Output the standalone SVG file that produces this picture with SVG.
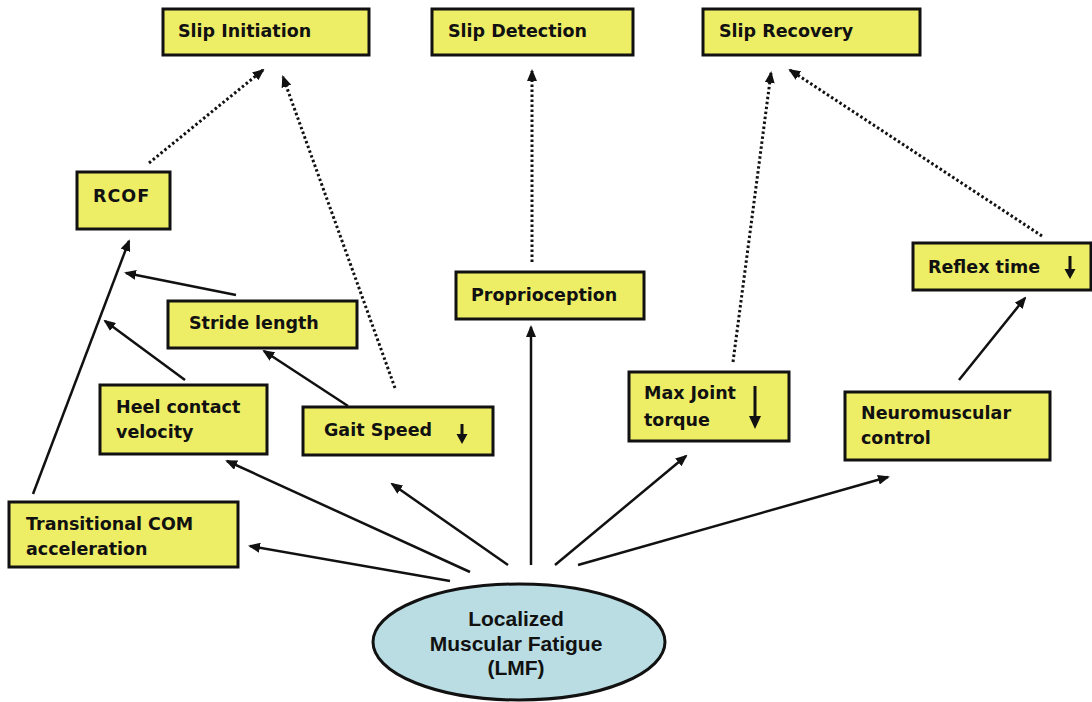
<svg xmlns="http://www.w3.org/2000/svg" width="1092" height="702" viewBox="0 0 1092 702">
<style>
.box{fill:#eeee66;stroke:#111;stroke-width:3}
.t{font-family:"DejaVu Sans",sans-serif;font-weight:bold;font-size:17.5px;fill:#111}
.et{font-family:"Liberation Sans",Arial,sans-serif;font-weight:bold;font-size:21px;fill:#111;text-anchor:middle}
.s{fill:none;stroke:#111;stroke-width:2.5}
.d{fill:none;stroke:#111;stroke-width:3;stroke-dasharray:2.5 2.5}
</style>
<defs>
<marker id="ah" viewBox="0 0 12 10" refX="10" refY="5" markerWidth="12" markerHeight="10" markerUnits="userSpaceOnUse" orient="auto">
<path d="M0,0 L12,5 L0,10 z" fill="#111"/>
</marker>
<marker id="dh" viewBox="0 0 12 10" refX="10" refY="5" markerWidth="12" markerHeight="10" markerUnits="userSpaceOnUse" orient="auto">
<path d="M0,0 L12,5 L0,10 z" fill="#111"/>
</marker>
</defs>
<rect width="1092" height="702" fill="#fff"/>

<g id="connectors">
<line class="s" x1="450" y1="581" x2="250" y2="546" marker-end="url(#ah)"/>
<line class="s" x1="470" y1="572" x2="227" y2="461" marker-end="url(#ah)"/>
<line class="s" x1="508" y1="565" x2="392" y2="484" marker-end="url(#ah)"/>
<line class="s" x1="531" y1="565" x2="531" y2="327" marker-end="url(#ah)"/>
<line class="s" x1="555" y1="565" x2="686" y2="456" marker-end="url(#ah)"/>
<line class="s" x1="578" y1="565" x2="888" y2="477" marker-end="url(#ah)"/>
<line class="s" x1="959" y1="380" x2="1025" y2="298" marker-end="url(#ah)"/>
<line class="s" x1="33" y1="494" x2="129" y2="241" marker-end="url(#ah)"/>
<line class="s" x1="185" y1="380" x2="105" y2="321" marker-end="url(#ah)"/>
<line class="s" x1="236" y1="295" x2="126" y2="273" marker-end="url(#ah)"/>
<line class="s" x1="348" y1="406" x2="264" y2="351" marker-end="url(#ah)"/>
<line class="d" x1="149" y1="163" x2="263" y2="70" marker-end="url(#dh)"/>
<line class="d" x1="395" y1="388" x2="283" y2="77" marker-end="url(#dh)"/>
<line class="d" x1="532" y1="262" x2="532" y2="71" marker-end="url(#dh)"/>
<line class="d" x1="733" y1="362" x2="771" y2="73" marker-end="url(#dh)"/>
<line class="d" x1="1042" y1="236" x2="790" y2="70" marker-end="url(#dh)"/>
</g>

<g id="slip-initiation">
<rect class="box" x="163" y="9" width="206" height="46"/>
<text class="t" x="178" y="37">Slip Initiation</text>
</g>
<g id="slip-detection">
<rect class="box" x="432" y="9" width="201" height="46"/>
<text class="t" x="448" y="37">Slip Detection</text>
</g>
<g id="slip-recovery">
<rect class="box" x="703" y="9" width="217" height="46"/>
<text class="t" x="719" y="37">Slip Recovery</text>
</g>
<g id="rcof">
<rect class="box" x="77" y="172" width="93" height="57"/>
<text class="t" x="93" y="202" letter-spacing="1">RCOF</text>
</g>
<g id="proprioception">
<rect class="box" x="456" y="272" width="188" height="47"/>
<text class="t" x="471" y="301">Proprioception</text>
</g>
<g id="reflex-time">
<rect class="box" x="913" y="243" width="178" height="47"/>
<text class="t" x="928" y="273">Reflex time</text>
<line x1="1070" y1="256" x2="1070" y2="270" stroke="#111" stroke-width="3"/>
<path d="M1064.5,269 L1075.5,269 L1070,279 z" fill="#111"/>
</g>
<g id="stride-length">
<rect class="box" x="168" y="301" width="189" height="47"/>
<text class="t" x="189" y="329">Stride length</text>
</g>
<g id="heel-contact-velocity">
<rect class="box" x="100" y="385" width="167" height="69"/>
<text class="t" x="116" y="413">Heel contact</text>
<text class="t" x="116" y="438">velocity</text>
</g>
<g id="gait-speed">
<rect class="box" x="303" y="407" width="190" height="48"/>
<text class="t" x="324" y="436">Gait Speed</text>
<line x1="462" y1="424" x2="462" y2="436" stroke="#111" stroke-width="3"/>
<path d="M456.5,434 L467.5,434 L462,444 z" fill="#111"/>
</g>
<g id="max-joint-torque">
<rect class="box" x="629" y="372" width="160" height="69"/>
<text class="t" x="644" y="399">Max Joint</text>
<text class="t" x="644" y="426">torque</text>
<line x1="755" y1="386" x2="755" y2="418" stroke="#111" stroke-width="3"/>
<path d="M749,416 L761,416 L755,429 z" fill="#111"/>
</g>
<g id="neuromuscular-control">
<rect class="box" x="845" y="392" width="205" height="68"/>
<text class="t" x="861" y="419">Neuromuscular</text>
<text class="t" x="861" y="444">control</text>
</g>
<g id="transitional-com">
<rect class="box" x="9" y="502" width="229" height="65"/>
<text class="t" x="26" y="530">Transitional COM</text>
<text class="t" x="26" y="555">acceleration</text>
</g>
<g id="lmf">
<ellipse cx="519" cy="642" rx="146" ry="58" fill="#b9dde3" stroke="#111" stroke-width="3"/>
<text class="et" x="516" y="626">Localized</text>
<text class="et" x="516" y="651">Muscular Fatigue</text>
<text class="et" x="516" y="675">(LMF)</text>
</g>
</svg>
